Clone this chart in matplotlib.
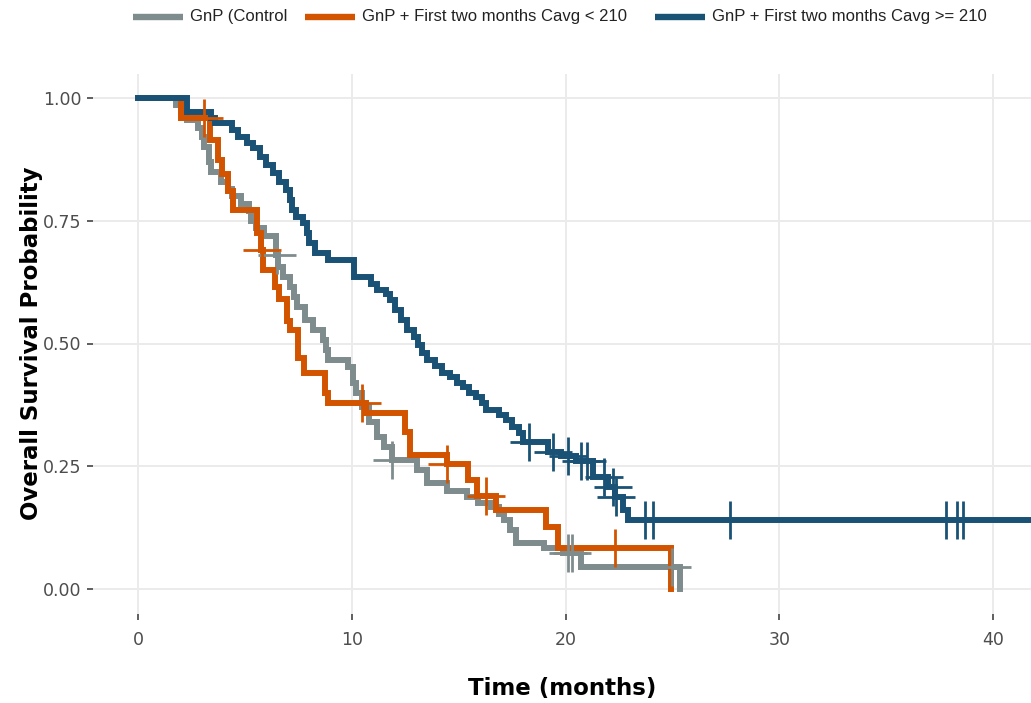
import matplotlib
matplotlib.use("Agg")
import matplotlib.pyplot as plt
import numpy as np
from matplotlib.lines import Line2D

# ---------------- data ----------------
labels = ["GnP (Control", "GnP + First two months Cavg < 210", "GnP + First two months Cavg >= 210"]
colors = ["#7f8c8d", "#d35400", "#1a5276"]

t_ctrl = [0, 1.8, 2.0, 2.3, 2.8, 3.0, 3.1, 3.3, 3.4, 3.9, 4.2, 4.4, 4.8, 5.2, 5.3,
          5.5, 5.9, 6.45, 6.55, 6.8, 7.1, 7.3, 7.45, 7.8, 8.2, 8.65, 8.8, 8.9, 9.8, 10.05,
          10.2, 10.5, 10.8, 11.2, 11.5, 11.9, 13.05, 13.5, 14.45, 15.4, 15.9, 16.5, 16.9, 17.1, 17.4,
          17.7, 19.0, 19.9, 20.7, 25.35]
s_ctrl = [1, .985, .97, .955, .94, .92, .90, .87, .85, .83, .815, .80, .785, .77, .75,
          .735, .72, .68, .656, .635, .615, .595, .574, .548, .527, .507, .487, .466, .452, .42,
          .40, .37, .34, .31, .29, .263, .242, .216, .20, .187, .175, .167, .153, .14, .12,
          .094, .084, .073, .045, 0]
c_ctrl = [6.5, 11.9, 20.1, 20.3, 24.98]

t_low = [0, 2.0, 3.37, 3.74, 3.93, 4.2, 4.45, 5.57, 5.75, 5.85, 6.4, 6.6, 6.95, 7.1, 7.5,
         7.75, 8.75, 8.9, 10.65, 12.5, 12.7, 14.45, 15.45, 15.85, 16.75, 19.1, 19.65, 24.93]
s_low = [1, .96, .914, .874, .845, .81, .772, .725, .69, .65, .615, .59, .545, .527, .47,
         .44, .40, .379, .358, .32, .273, .255, .222, .19, .161, .126, .0835, 0]
c_low = [3.1, 5.8, 10.5, 14.45, 16.3, 22.3]

t_high = [0, 2.3, 3.4, 3.6, 4.4, 4.7, 5.1, 5.4, 5.7, 6.0, 6.3, 6.6, 6.9, 7.1, 7.2,
          7.4, 7.7, 7.9, 8.0, 8.3, 8.9, 10.1, 10.9, 11.2, 11.6, 11.8, 12.0, 12.3, 12.6, 12.9,
          13.1, 13.3, 13.5, 13.9, 14.2, 14.6, 14.9, 15.2, 15.5, 15.8, 16.1, 16.3, 16.9, 17.2, 17.5,
          17.8, 18.0, 19.2, 19.8, 20.5, 21.3, 22.0, 22.3, 22.7, 22.9]
s_high = [1, .972, .959, .949, .935, .92, .908, .898, .88, .864, .847, .829, .813, .792, .772,
          .758, .745, .725, .705, .684, .670, .635, .622, .61, .60, .589, .568, .548, .527, .513,
          .497, .48, .466, .455, .44, .432, .42, .411, .40, .391, .379, .365, .354, .344, .33,
          .318, .30, .279, .270, .26, .228, .208, .187, .16, .14]
c_high = [18.3, 19.4, 20.1, 20.7, 21.0, 21.8, 22.2, 22.35, 23.7, 24.1, 27.7, 37.8, 38.3, 38.6]
t_high_end = 43.0

x_ticks = [0, 10, 20, 30, 40]
y_ticks = [0.0, 0.25, 0.5, 0.75, 1.0]
y_tick_labels = ["0.00", "0.25", "0.50", "0.75", "1.00"]

# ---------------- figure ----------------
W, H = 1031, 703
fig = plt.figure(figsize=(W / 100, H / 100), dpi=100)
fig.patch.set_facecolor("white")


def fx(px):
    return px / W


def fy(py):
    return 1 - py / H


ax = fig.add_axes([fx(93), fy(613.5), fx(1031) - fx(93), fy(73.5) - fy(613.5)])
ax.set_facecolor("white")
ax.set_xlim(-2.105, 41.77)
ax.set_ylim(-0.05, 1.05)

for side in ax.spines.values():
    side.set_visible(False)
ax.grid(True, color="#ebebeb", linewidth=1.4)
ax.set_axisbelow(True)

lw = 4.3
series = [
    (t_ctrl, s_ctrl, c_ctrl, None),
    (t_low, s_low, c_low, None),
    (t_high, s_high, c_high, t_high_end),
]
for (t, s, c, tend), col in zip(series, colors):
    tt = list(t)
    ss = list(s)
    if tend is not None:
        tt.append(tend)
        ss.append(s[-1])
    ax.step(tt, ss, where="post", color=col, linewidth=lw, solid_joinstyle="miter", zorder=3)
    idx = np.searchsorted(np.array(t), np.array(c), side="right") - 1
    cs = np.array(s)[idx]
    ax.plot(c, cs, linestyle="none", marker="+", markersize=27, markeredgewidth=2.0,
            color=col, zorder=4)

ax.set_xticks(x_ticks)
ax.set_yticks(y_ticks)
ax.set_yticklabels(y_tick_labels)
ax.tick_params(axis="both", length=4.5, width=1.1, color="#333333", labelcolor="#4d4d4d",
               labelsize=12.5)
ax.tick_params(axis="x", pad=8)
ax.tick_params(axis="y", pad=4)
for lab in ax.get_xticklabels() + ax.get_yticklabels():
    lab.set_fontfamily("DejaVu Sans")

ax.set_xlabel("Time (months)", fontsize=16.5, fontweight="bold", family="DejaVu Sans",
              labelpad=20, color="black")
ax.set_ylabel("Overall Survival Probability", fontsize=16.5, fontweight="bold",
              family="DejaVu Sans", labelpad=0, color="black")

# ---------------- legend (top) ----------------
leg_y = 17
leg_items = [(133, 183, 190), (305, 355, 362), (655, 705, 712)]
for (x0, x1, xt), col, lab in zip(leg_items, colors, labels):
    fig.add_artist(Line2D([fx(x0), fx(x1)], [fy(leg_y), fy(leg_y)], transform=fig.transFigure,
                          color=col, linewidth=4.6, solid_capstyle="butt"))
    fig.text(fx(xt), fy(leg_y), lab, fontsize=12, family="Liberation Sans",
             va="center", ha="left", color="#222222")

fig.savefig("out.png", dpi=100, facecolor="white")
